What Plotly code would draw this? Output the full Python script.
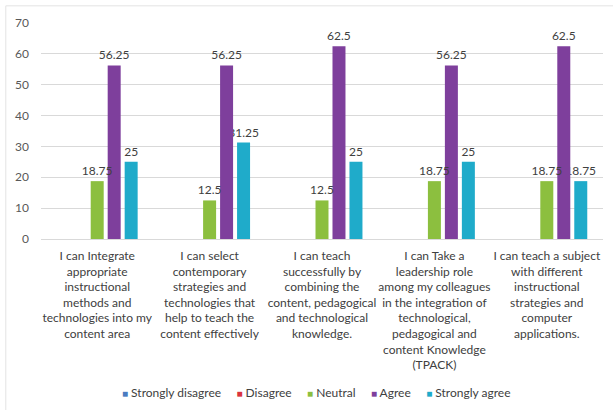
import plotly.graph_objects as go

# Survey items (x-axis categories), wrapped the way they appear under each group
categories = [
    "I can Integrate<br>appropriate<br>instructional<br>methods and<br>technologies into my<br>content area",
    "I can select<br>contemporary<br>strategies and<br>technologies that<br>help to teach the<br>content effectively",
    "I can teach<br>successfully by<br>combining the<br>content, pedagogical<br>and technological<br>knowledge.",
    "I can Take a<br>leadership role<br>among my colleagues<br>in the integration of<br>technological,<br>pedagogical and<br>content Knowledge<br>(TPACK)",
    "I can teach a subject<br>with different<br>instructional<br>strategies and<br>computer<br>applications.",
]

# Percentage of respondents per response option
strongly_disagree = [0, 0, 0, 0, 0]
disagree = [0, 0, 0, 0, 0]
neutral = [18.75, 12.5, 12.5, 18.75, 18.75]
agree = [56.25, 56.25, 62.5, 56.25, 62.5]
strongly_agree = [25, 31.25, 25, 25, 18.75]

y_ticks = [0, 10, 20, 30, 40, 50, 60, 70]

series = [
    ("Strongly disagree", strongly_disagree, "#4a7bc0"),
    ("Disagree", disagree, "#d9343f"),
    ("Neutral", neutral, "#8cbf3f"),
    ("Agree", agree, "#7e3f9c"),
    ("Strongly agree", strongly_agree, "#1fabca"),
]

FONT = "Lato, Liberation Sans, Arial, sans-serif"

# Side-by-side slots within each category (in category units)
BAR_W = 0.1156
SLOT = 0.1511
n = len(series)

fig = go.Figure()
# Added right-to-left so that each bar sits above its right neighbour's label
for i in reversed(range(n)):
    name, vals, color = series[i]
    center = (i - (n - 1) / 2) * SLOT
    fig.add_trace(go.Bar(
        name=name,
        x=categories,
        y=vals,
        width=BAR_W,
        offset=center - BAR_W / 2,
        marker=dict(color=color, line=dict(width=0)),
        text=[f"{v:g}" if v else "" for v in vals],
        textposition="outside",
        constraintext="none",
        textfont=dict(family=FONT, size=12, color="#404040"),
        cliponaxis=False,
        showlegend=False,
    ))

# Plot-area pixel helpers (plot spans x 40.75..603, y 22.7..239)
def px_x(px):
    return (px - 40.75) / 562.5

def px_y(py):
    return (239 - py) / 216.3

# Light outline around the whole chart area
fig.add_shape(type="rect", xref="paper", yref="paper",
              x0=px_x(5.5), x1=px_x(625), y0=px_y(420), y1=px_y(5.5),
              line=dict(color="#e3e3e3", width=1), fillcolor="rgba(0,0,0,0)",
              layer="below")

# Compact legend row: small coloured squares followed by the series names
gap = "&nbsp;" * 5
legend_text = gap.join(
    f"<span style='color:{color};font-size:10px'>■</span>&nbsp;{name}"
    for name, _, color in series
)
fig.add_annotation(
    xref="paper", yref="paper",
    x=px_x(316), y=px_y(393),
    xanchor="center", yanchor="middle",
    text=legend_text, showarrow=False,
    font=dict(family=FONT, size=12, color="#404040"),
)

fig.update_layout(
    width=613,
    height=410,
    margin=dict(l=40.75, r=10, t=22.7, b=171),
    paper_bgcolor="white",
    plot_bgcolor="white",
    barmode="overlay",
    uniformtext=dict(mode=False),
    font=dict(family=FONT, size=12, color="#404040"),
    showlegend=False,
    xaxis=dict(
        showgrid=False,
        showline=False,
        zeroline=False,
        ticks="",
        tickangle=0,
        automargin=False,
        ticklabelstandoff=8,
        tickfont=dict(family=FONT, size=12, color="#404040"),
    ),
    yaxis=dict(
        range=[0, 70],
        tickvals=y_ticks,
        showgrid=True,
        gridcolor="#d9d9d9",
        gridwidth=1,
        zeroline=True,
        zerolinecolor="#d9d9d9",
        zerolinewidth=1,
        showline=False,
        ticks="",
        automargin=False,
        ticklabelstandoff=11,
        tickfont=dict(family=FONT, size=12, color="#595959"),
    ),
)

fig.write_html("out.html")
